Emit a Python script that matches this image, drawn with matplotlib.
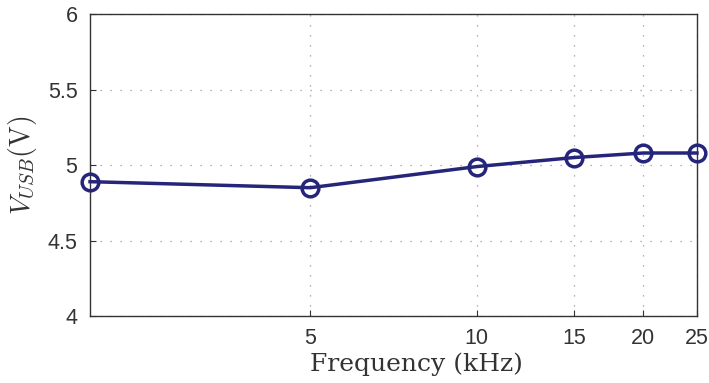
import matplotlib.pyplot as plt
from matplotlib.ticker import FixedLocator, NullLocator, FixedFormatter

# Data
freq_khz = [2, 5, 10, 15, 20, 25]
v_usb = [4.89, 4.85, 4.99, 5.05, 5.08, 5.08]
xtick_vals = [5, 10, 15, 20, 25]
xtick_labels = ['5', '10', '15', '20', '25']
ytick_vals = [4, 4.5, 5, 5.5, 6]
ytick_labels = ['4', '4.5', '5', '5.5', '6']

plt.rcParams['mathtext.fontset'] = 'cm'

fig = plt.figure(figsize=(7.09, 3.83), dpi=100)
ax = fig.add_axes([0.127, 0.175, 0.856, 0.788])

ax.plot(freq_khz, v_usb, color='#25257a', linewidth=2.5, marker='o',
        markersize=12, markerfacecolor='none', markeredgewidth=2.5,
        clip_on=False, zorder=5)

ax.set_xscale('log')
ax.set_xlim(2, 25)
ax.set_ylim(4, 6)
ax.xaxis.set_major_locator(FixedLocator(xtick_vals))
ax.xaxis.set_major_formatter(FixedFormatter(xtick_labels))
ax.xaxis.set_minor_locator(NullLocator())
ax.set_yticks(ytick_vals)
ax.set_yticklabels(ytick_labels)

ax.tick_params(direction='in', length=4, labelsize=15.5, colors='#333333',
               top=False, right=False, pad=9)
for lbl in ax.get_xticklabels() + ax.get_yticklabels():
    lbl.set_family('Liberation Sans')
for s in ax.spines.values():
    s.set_color('#333333')
    s.set_linewidth(1.0)

ax.grid(True, linestyle=(0, (1, 7)), color='#999999', linewidth=0.9)

ax.set_xlabel('Frequency (kHz)', family='DejaVu Serif', fontsize=18,
              color='#333333', labelpad=0)
ax.xaxis.set_label_coords(0.537, -0.12)
ax.set_ylabel(r'$V_{USB}\mathrm{(V)}$', fontsize=20, color='#333333',
              labelpad=6)

fig.savefig('out.png', dpi=100)
